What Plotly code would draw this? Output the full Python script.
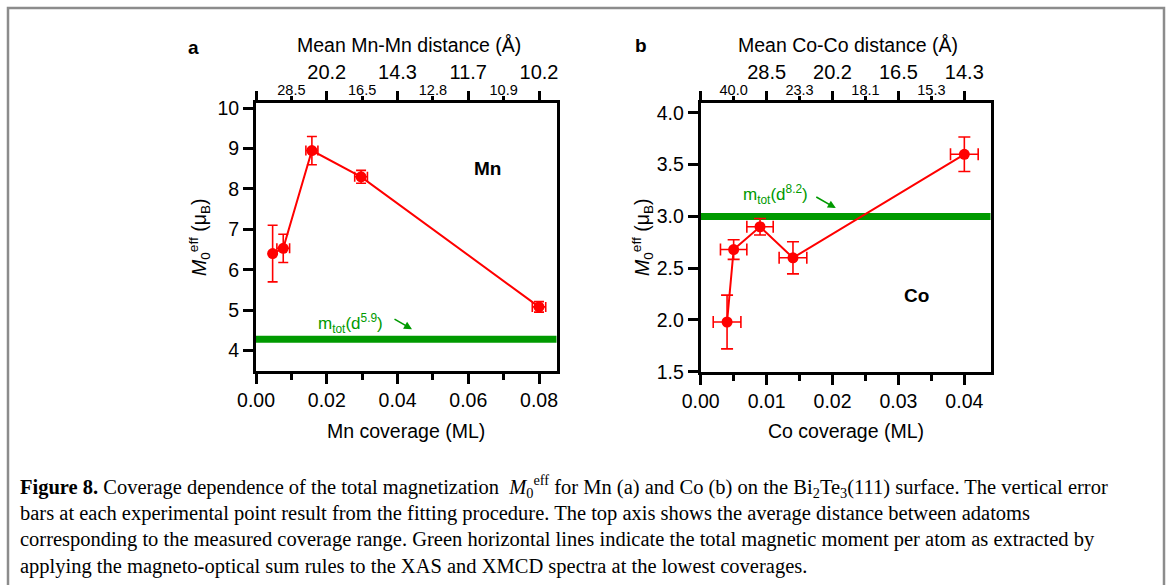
import plotly.graph_objects as go

W, H = 1167, 585

# ---------------- data ----------------
mn_cov = [0.0047, 0.0077, 0.0158, 0.0297, 0.0800]
mn_m = [6.40, 6.53, 8.95, 8.30, 5.08]
mn_m_err = [0.70, 0.35, 0.35, 0.16, 0.13]
mn_cov_err = [0.0, 0.0018, 0.0017, 0.0018, 0.0019]
mn_mtot = 4.28

co_cov = [0.0040, 0.0050, 0.0090, 0.0140, 0.0400]
co_m = [1.98, 2.68, 2.90, 2.60, 3.60]
co_m_err = [0.26, 0.095, 0.08, 0.155, 0.167]
co_cov_err = [0.0021, 0.0020, 0.0020, 0.0021, 0.0021]
co_mtot = 3.00

mn_xrange = [0.0, 0.085]
co_xrange = [0.0, 0.044]
mn_yrange = [3.5, 10.14]
co_yrange = [1.5, 4.10]

mn_top_major_vals = [0.0, 0.02, 0.04, 0.06, 0.08]
mn_top_major_text = ["", "20.2", "14.3", "11.7", "10.2"]
mn_top_minor_vals = [0.01, 0.03, 0.05, 0.07]
mn_top_minor_text = ["28.5", "16.5", "12.8", "10.9"]

co_top_major_vals = [0.0, 0.01, 0.02, 0.03, 0.04]
co_top_major_text = ["", "28.5", "20.2", "16.5", "14.3"]
co_top_minor_vals = [0.005, 0.015, 0.025, 0.035]
co_top_minor_text = ["40.0", "23.3", "18.1", "15.3"]

# ---------------- layout helpers ----------------
def px_x(p):
    return p / W

def px_y(p):
    return 1 - p / H

FONT = "Liberation Sans, Arial, sans-serif"
RED = "#ff0000"
GREEN = "#009a00"

a_dom_x = [px_x(256), px_x(556.7)]
a_dom_y = [px_y(370.7), px_y(102.5)]
b_dom_x = [px_x(700.7), px_x(990.7)]
b_dom_y = [px_y(371.7), px_y(102.5)]

fig = go.Figure()

def data_trace(x, y, ex, ey, xa, ya, cap):
    return go.Scatter(
        x=x, y=y, xaxis=xa, yaxis=ya, mode="lines+markers",
        line=dict(color=RED, width=2),
        marker=dict(color=RED, size=11),
        error_y=dict(type="data", array=ey, color=RED, thickness=1.6, width=cap),
        error_x=dict(type="data", array=ex, color=RED, thickness=1.6, width=cap),
        showlegend=False, hoverinfo="skip",
    )

# green reference lines
fig.add_trace(go.Scatter(x=mn_xrange, y=[mn_mtot, mn_mtot], xaxis="x", yaxis="y",
                         mode="lines", line=dict(color=GREEN, width=7),
                         showlegend=False, hoverinfo="skip"))
fig.add_trace(go.Scatter(x=co_xrange, y=[co_mtot, co_mtot], xaxis="x2", yaxis="y2",
                         mode="lines", line=dict(color=GREEN, width=7),
                         showlegend=False, hoverinfo="skip"))

fig.add_trace(data_trace(mn_cov, mn_m, mn_cov_err, mn_m_err, "x", "y", 5))
fig.add_trace(data_trace(co_cov, co_m, co_cov_err, co_m_err, "x2", "y2", 6))

# invisible traces to activate top axes
for xa, ya, xr in [("x3", "y", mn_xrange), ("x5", "y", mn_xrange),
                   ("x4", "y2", co_xrange), ("x6", "y2", co_xrange)]:
    fig.add_trace(go.Scatter(x=xr, y=[None, None], xaxis=xa, yaxis=ya, mode="lines",
                             showlegend=False, hoverinfo="skip"))

tickfont = dict(family=FONT, size=19.5, color="black")

def bottom_axis(dom, rng, dtick, minor_dtick, anchor):
    return dict(domain=dom, range=rng, anchor=anchor, tick0=0, dtick=dtick,
                tickformat=".2f", ticks="outside", ticklen=10, tickwidth=3,
                tickcolor="black", showline=True, linewidth=3, linecolor="black",
                mirror=True, showgrid=False, zeroline=False, tickfont=tickfont,
                automargin=False,
                minor=dict(dtick=minor_dtick, tick0=0, ticks="outside", ticklen=6,
                           tickwidth=3, tickcolor="black", showgrid=False))

def left_axis(dom, rng, dtick, fmt, anchor):
    return dict(domain=dom, range=rng, anchor=anchor, dtick=dtick, tick0=0,
                tickformat=fmt, ticks="outside", ticklen=10, tickwidth=3,
                tickcolor="black", showline=True, linewidth=3, linecolor="black",
                mirror=True, showgrid=False, zeroline=False, tickfont=tickfont,
                automargin=False)

def top_axis(over, anchor, rng, vals, text, size, tlen, standoff):
    return dict(overlaying=over, side="top", anchor=anchor, range=rng,
                tickmode="array", tickvals=vals, ticktext=text,
                ticks="outside", ticklen=tlen, tickwidth=3, tickcolor="black",
                showline=False, showgrid=False, zeroline=False,
                tickfont=dict(family=FONT, size=size, color="black"),
                ticklabelstandoff=standoff, automargin=False)

fig.update_layout(
    width=W, height=H,
    margin=dict(l=0, r=0, t=0, b=0),
    paper_bgcolor="white", plot_bgcolor="white",
    showlegend=False,
    xaxis=bottom_axis(a_dom_x, mn_xrange, 0.02, 0.01, "y"),
    yaxis=left_axis(a_dom_y, mn_yrange, 1, "d", "x"),
    xaxis2=bottom_axis(b_dom_x, co_xrange, 0.01, 0.005, "y2"),
    yaxis2=left_axis(b_dom_y, co_yrange, 0.5, ".1f", "x2"),
    xaxis3=top_axis("x", "y", mn_xrange, mn_top_major_vals, mn_top_major_text, 20, 11, 4),
    xaxis5=top_axis("x", "y", mn_xrange, mn_top_minor_vals, mn_top_minor_text, 14.5, 6, -5),
    xaxis4=top_axis("x2", "y2", co_xrange, co_top_major_vals, co_top_major_text, 20, 11, 4),
    xaxis6=top_axis("x2", "y2", co_xrange, co_top_minor_vals, co_top_minor_text, 14.5, 6, -5),
)

ann = []

def paper_text(x, y, text, size, **kw):
    d = dict(x=px_x(x), y=px_y(y), xref="paper", yref="paper", text=text,
             xanchor="center", yanchor="middle",
             showarrow=False, font=dict(family=FONT, size=size, color="black"))
    d.update(kw)
    ann.append(d)

# panel labels
paper_text(193, 47, "<b>a</b>", 19)
paper_text(641, 46, "<b>b</b>", 19)
# top titles
paper_text(409, 45, "Mean Mn-Mn distance (Å)", 19.5)
paper_text(848, 45, "Mean Co-Co distance (Å)", 19.5)
# bottom titles
paper_text(406, 431, "Mn coverage (ML)", 19.5)
paper_text(846, 431, "Co coverage (ML)", 19.5)
# y titles
ytitle = "<i>M</i><sub>0</sub><sup>eff</sup> (μ<sub>B</sub>)"
paper_text(199, 237, ytitle, 19.5, textangle=-90)
paper_text(642, 237, ytitle, 19.5, textangle=-90)

# in-plot labels
ann.append(dict(x=0.0655, y=8.51, xref="x", yref="y", text="<b>Mn</b>", showarrow=False,
                xanchor="center", yanchor="middle",
                font=dict(family=FONT, size=19, color="black")))
ann.append(dict(x=0.0327, y=2.234, xref="x2", yref="y2", text="<b>Co</b>", showarrow=False,
                xanchor="center", yanchor="middle",
                font=dict(family=FONT, size=19, color="black")))
ann.append(dict(x=0.0266, y=4.68, xref="x", yref="y",
                text="m<sub>tot</sub>(d<sup>5.9</sup>)", showarrow=False,
                xanchor="center", yanchor="middle",
                font=dict(family=FONT, size=17, color=GREEN)))
ann.append(dict(x=0.0113, y=3.21, xref="x2", yref="y2",
                text="m<sub>tot</sub>(d<sup>8.2</sup>)", showarrow=False,
                xanchor="center", yanchor="middle",
                font=dict(family=FONT, size=17, color=GREEN)))
# arrows
ann.append(dict(x=0.0441, y=4.527, xref="x", yref="y", ax=-19, ay=-11, text="",
                showarrow=True, arrowhead=2, arrowsize=1, arrowwidth=1.6, arrowcolor=GREEN))
ann.append(dict(x=0.0205, y=3.08, xref="x2", yref="y2", ax=-21, ay=-12, text="",
                showarrow=True, arrowhead=2, arrowsize=1, arrowwidth=1.6, arrowcolor=GREEN))

# caption
CAP_FONT = "Liberation Serif, Times New Roman, serif"
caption_lines = [
    "<b>Figure 8.</b> Coverage dependence of the total magnetization  <i>M</i><sub>0</sub><sup>eff</sup> for Mn (a) and Co (b) on the Bi<sub>2</sub>Te<sub>3</sub>(111) surface. The vertical error",
    "bars at each experimental point result from the fitting procedure. The top axis shows the average distance between adatoms",
    "corresponding to the measured coverage range. Green horizontal lines indicate the total magnetic moment per atom as extracted by",
    "applying the magneto-optical sum rules to the XAS and XMCD spectra at the lowest coverages.",
]
caption_y = [486, 513, 539, 566]
for line, yy in zip(caption_lines, caption_y):
    ann.append(dict(x=px_x(18), y=px_y(yy), xref="paper", yref="paper", text=line,
                    showarrow=False, xanchor="left", yanchor="middle", align="left",
                    font=dict(family=CAP_FONT, size=20.5, color="black")))

fig.update_layout(annotations=ann)

# figure frame
fig.add_shape(type="rect", xref="paper", yref="paper",
              x0=px_x(8), y0=-0.05, x1=px_x(1164), y1=px_y(8),
              line=dict(color="#8c8c8c", width=2.5), fillcolor="rgba(0,0,0,0)")

fig.write_html("out.html")
